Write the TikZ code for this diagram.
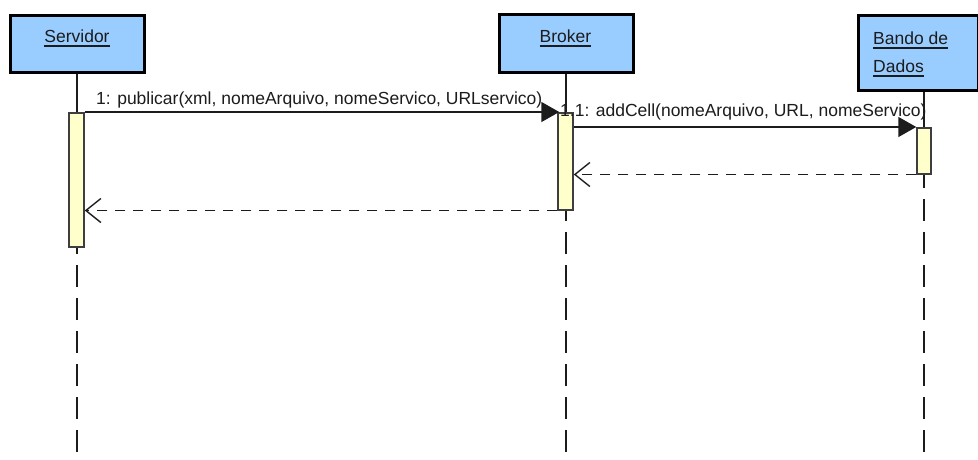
\documentclass[tikz,border=0pt]{standalone}
\usepackage{fontspec}
\setmainfont{Liberation Sans}
\usetikzlibrary{arrows.meta,calc}
\definecolor{objblue}{HTML}{99CCFF}
\definecolor{actyellow}{HTML}{FFFFCC}
\definecolor{ink}{HTML}{1C1C1C}
\begin{document}
\begin{tikzpicture}[x=1pt,y=-1pt,
  objbox/.style={draw=black, line width=2.6pt, fill=objblue, inner sep=0pt},
  actbox/.style={draw=ink!85, line width=1.5pt, fill=actyellow, inner sep=0pt, minimum width=15pt},
  lbl/.style={font=\fontsize{17.5}{20}\selectfont, text=ink, inner sep=0pt},
  ulline/.style={draw=ink, line width=1.3pt},
  life/.style={draw=ink, line width=1.6pt},
  lifedash/.style={life, dash pattern=on 22pt off 11pt},
  msg/.style={draw=ink, line width=1.6pt, -{Triangle[length=18pt,width=20pt]}},
  ret/.style={draw=ink, line width=1.6pt, dash pattern=on 10pt off 8pt,
     -{Straight Barb[length=15pt,width=24pt,line width=1.4pt]}}]
\useasboundingbox (0,0) rectangle (978,460);
\fill[white] (0,0) rectangle (978,460);
\coordinate (bottom) at (0,462);

% object boxes
\node[objbox, minimum width=134pt, minimum height=57pt, anchor=north west] (srv) at (9,14) {};
\node[objbox, minimum width=134pt, minimum height=58pt, anchor=north west] (brk) at (498,13) {};
\node[objbox, minimum width=120pt, minimum height=75pt, anchor=north west] (bdd) at (857,14) {};

% lifeline x positions
\coordinate (srvx) at (77,0);
\coordinate (brkx) at (566,0);
\coordinate (bddx) at (924,0);

% lifelines (behind activations)
\draw[life] (srv.south -| srvx) -- (srvx |- 0,112);
\draw[life] (brk.south -| brkx) -- (brkx |- 0,112);
\draw[life] (bdd.south -| bddx) -- (bddx |- 0,127);
\draw[lifedash, dash phase=14pt] (srvx |- 0,246) -- (srvx |- bottom);
\draw[lifedash, dash phase=10pt] (brkx |- 0,209) -- (brkx |- bottom);
\draw[lifedash, dash phase=7pt] (bddx |- 0,173) -- (bddx |- bottom);

% activations
\node[actbox, minimum height=134pt, anchor=north] (sa) at (76.5,112) {};
\node[actbox, minimum height=97pt, anchor=north] (ba) at (565.5,112) {};
\node[actbox, minimum height=46pt, minimum width=14pt, anchor=north] (da) at (924,127) {};

% labels in boxes
\node[lbl, anchor=base] (srvt) at (77,43) {Servidor};
\draw[ulline] ([yshift=-3pt]srvt.base west) -- ([yshift=-3pt]srvt.base east);
\node[lbl, anchor=base] (brkt) at (565.5,43) {Broker};
\draw[ulline] ([yshift=-3pt]brkt.base west) -- ([yshift=-3pt]brkt.base east);
\node[lbl, anchor=base west] (bddt1) at (873,45) {Bando de\ };
\draw[ulline] ([yshift=-3pt]bddt1.base west) -- ([yshift=-3pt]bddt1.base east);
\node[lbl, anchor=base west] (bddt2) at (873,73) {Dados};
\draw[ulline] ([yshift=-3pt]bddt2.base west) -- ([yshift=-3pt]bddt2.base east);

% message labels
\node[lbl, anchor=base west] (m1t) at (96,105) {1: publicar(xml, nomeArquivo, nomeServico, URLservico)};
\node[lbl, anchor=base west] (m2t) at (560,117) {1.1: addCell(nomeArquivo, URL, nomeServico)};

% messages
\draw[msg] (sa.north east) -- ([xshift=2pt]ba.north west);
\draw[msg] (ba.east |- da.north) -- (da.north west);
\draw[ret] (da.south west) -- (ba.east |- da.south);
\draw[ret] (ba.south west) -- (sa.east |- ba.south);
\end{tikzpicture}
\end{document}
